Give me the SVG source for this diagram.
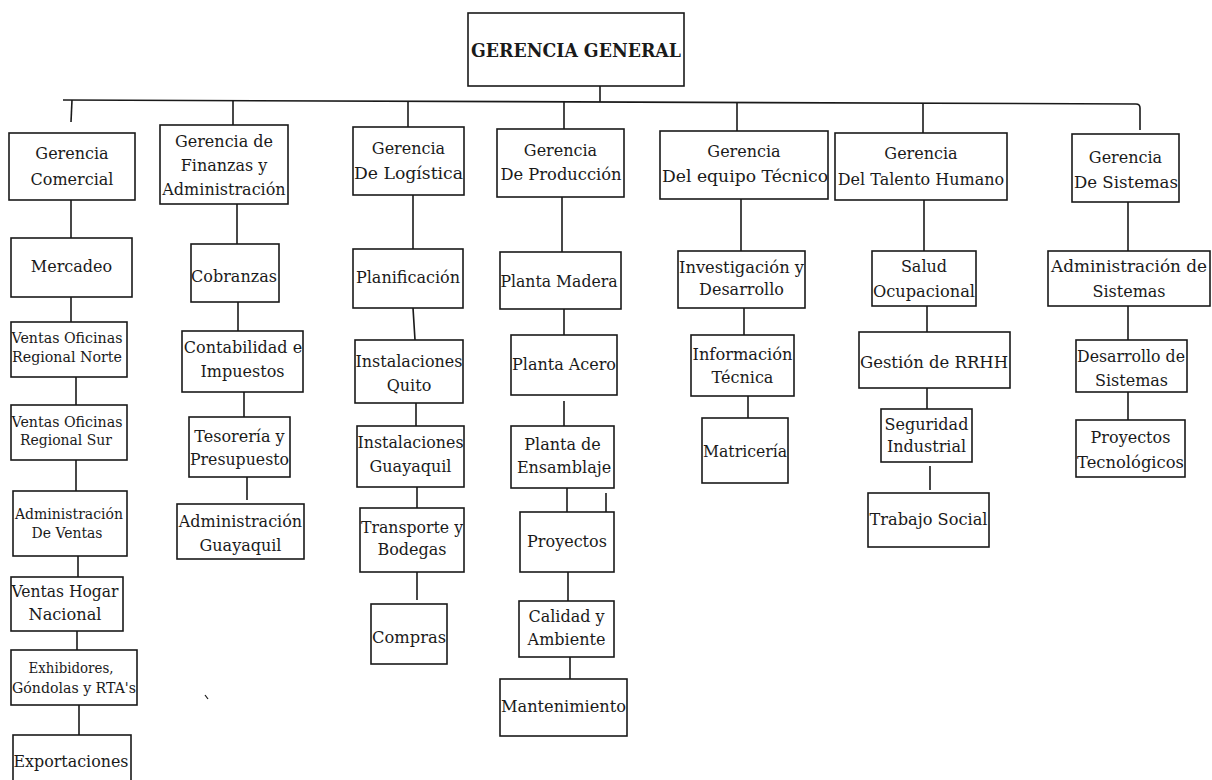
<svg xmlns="http://www.w3.org/2000/svg" width="1212" height="780" viewBox="0 0 1212 780">
<style>
.box{fill:#fff;stroke:#1a1a1a;stroke-width:1.6}
.t{font-family:"DejaVu Serif","Liberation Serif",serif;font-size:16px;fill:#1a1a1a;text-anchor:middle}
.s{font-size:14px}
.b{font-weight:bold;font-size:19px}
#connectors line,#connectors path{stroke:#1a1a1a;stroke-width:1.6;fill:none}
</style>
<rect width="1212" height="780" fill="#fff"/>
<g id="connectors">
<line x1="600" y1="86" x2="600" y2="102"/>
<path d="M63,100 L1136,104 Q1140,104 1140,108 L1140,130"/>
<line x1="72" y1="100" x2="71" y2="122"/>
<line x1="233" y1="100" x2="233" y2="125"/>
<line x1="408" y1="101" x2="408" y2="127"/>
<line x1="564" y1="102" x2="564" y2="129"/>
<line x1="737" y1="103" x2="737" y2="131"/>
<line x1="923" y1="103" x2="923" y2="133"/>
<line x1="71" y1="200" x2="71" y2="238"/>
<line x1="71" y1="297" x2="71" y2="322"/>
<line x1="76" y1="377" x2="76" y2="405"/>
<line x1="76" y1="460" x2="76" y2="491"/>
<line x1="78" y1="556" x2="78" y2="577"/>
<line x1="77" y1="631" x2="77" y2="650"/>
<line x1="79" y1="705" x2="79" y2="735"/>
<line x1="237" y1="204" x2="237" y2="244"/>
<line x1="238" y1="302" x2="238" y2="331"/>
<line x1="244" y1="392" x2="244" y2="417"/>
<line x1="247" y1="477" x2="247" y2="500"/>
<line x1="413" y1="195" x2="413" y2="249"/>
<line x1="413" y1="308" x2="415" y2="340"/>
<line x1="416" y1="403" x2="416" y2="426"/>
<line x1="417" y1="487" x2="417" y2="508"/>
<line x1="417" y1="572" x2="417" y2="600"/>
<line x1="562" y1="197" x2="562" y2="252"/>
<line x1="564" y1="309" x2="564" y2="335"/>
<line x1="564" y1="401" x2="564" y2="426"/>
<line x1="567" y1="488" x2="567" y2="512"/>
<line x1="606" y1="493" x2="606" y2="515"/>
<line x1="568" y1="572" x2="568" y2="601"/>
<line x1="570" y1="657" x2="570" y2="679"/>
<line x1="741" y1="199" x2="741" y2="251"/>
<line x1="744" y1="308" x2="744" y2="335"/>
<line x1="748" y1="396" x2="748" y2="418"/>
<line x1="924" y1="200" x2="924" y2="251"/>
<line x1="927" y1="306" x2="927" y2="332"/>
<line x1="927" y1="388" x2="927" y2="409"/>
<line x1="930" y1="466" x2="930" y2="490"/>
<line x1="1128" y1="202" x2="1128" y2="251"/>
<line x1="1128" y1="306" x2="1128" y2="340"/>
<line x1="1128" y1="392" x2="1128" y2="420"/>
<path d="M205,695 L208,699" style="stroke-width:1.2"/>
</g>
<g id="gerencia-general"><rect class="box" x="468" y="13" width="216" height="73"/><text class="t b" x="576" y="57" textLength="210" lengthAdjust="spacingAndGlyphs">GERENCIA GENERAL</text></g>
<g id="g-comercial"><rect class="box" x="9" y="133" width="126" height="67"/><text class="t" x="72" y="159">Gerencia</text><text class="t" x="72" y="185">Comercial</text></g>
<g id="g-finanzas"><rect class="box" x="160" y="125" width="128" height="79"/><text class="t" x="224" y="147">Gerencia de</text><text class="t" x="224" y="171">Finanzas y</text><text class="t" x="224" y="195">Administración</text></g>
<g id="g-logistica"><rect class="box" x="353" y="127" width="111" height="68"/><text class="t" x="408.5" y="154">Gerencia</text><text class="t" x="408.5" y="179" textLength="109" lengthAdjust="spacingAndGlyphs">De Logística</text></g>
<g id="g-produccion"><rect class="box" x="497" y="129" width="127" height="68"/><text class="t" x="560.5" y="156">Gerencia</text><text class="t" x="561" y="180" textLength="121" lengthAdjust="spacingAndGlyphs">De Producción</text></g>
<g id="g-tecnico"><rect class="box" x="660" y="131" width="168" height="68"/><text class="t" x="744" y="157">Gerencia</text><text class="t" x="745" y="182" textLength="166" lengthAdjust="spacingAndGlyphs">Del equipo Técnico</text></g>
<g id="g-talento"><rect class="box" x="835" y="133" width="172" height="67"/><text class="t" x="921" y="159">Gerencia</text><text class="t" x="921" y="185">Del Talento Humano</text></g>
<g id="g-sistemas"><rect class="box" x="1072" y="134" width="107" height="68"/><text class="t" x="1125.5" y="163">Gerencia</text><text class="t" x="1126" y="188" textLength="104" lengthAdjust="spacingAndGlyphs">De Sistemas</text></g>

<g id="mercadeo"><rect class="box" x="11" y="238" width="121" height="59"/><text class="t" x="71.5" y="272">Mercadeo</text></g>
<g id="ventas-norte"><rect class="box" x="11" y="322" width="116" height="55"/><text class="t s" x="67" y="343" textLength="111" lengthAdjust="spacingAndGlyphs">Ventas Oficinas</text><text class="t s" x="67" y="362" textLength="110" lengthAdjust="spacingAndGlyphs">Regional Norte</text></g>
<g id="ventas-sur"><rect class="box" x="11" y="405" width="116" height="55"/><text class="t s" x="67" y="427" textLength="111" lengthAdjust="spacingAndGlyphs">Ventas Oficinas</text><text class="t s" x="66" y="445" textLength="92" lengthAdjust="spacingAndGlyphs">Regional Sur</text></g>
<g id="adm-ventas"><rect class="box" x="13" y="491" width="114" height="65"/><text class="t s" x="69" y="519" textLength="108" lengthAdjust="spacingAndGlyphs">Administración</text><text class="t s" x="67" y="538" textLength="71" lengthAdjust="spacingAndGlyphs">De Ventas</text></g>
<g id="ventas-hogar"><rect class="box" x="11" y="577" width="112" height="54"/><text class="t" x="65" y="597" textLength="107" lengthAdjust="spacingAndGlyphs">Ventas Hogar</text><text class="t" x="65" y="620" textLength="73" lengthAdjust="spacingAndGlyphs">Nacional</text></g>
<g id="exhibidores"><rect class="box" x="11" y="650" width="126" height="55"/><text class="t s" x="71" y="673" textLength="85" lengthAdjust="spacingAndGlyphs">Exhibidores,</text><text class="t s" x="74" y="693" textLength="124" lengthAdjust="spacingAndGlyphs">Góndolas y RTA's</text></g>
<g id="exportaciones"><rect class="box" x="13" y="735" width="118" height="60"/><text class="t" x="71" y="767" textLength="115" lengthAdjust="spacingAndGlyphs">Exportaciones</text></g>

<g id="cobranzas"><rect class="box" x="191" y="244" width="88" height="58"/><text class="t" x="234" y="282">Cobranzas</text></g>
<g id="contabilidad"><rect class="box" x="182" y="331" width="121" height="61"/><text class="t" x="243" y="353">Contabilidad e</text><text class="t" x="242.5" y="377">Impuestos</text></g>
<g id="tesoreria"><rect class="box" x="189" y="417" width="101" height="60"/><text class="t" x="239.5" y="442">Tesorería y</text><text class="t" x="239.5" y="465" textLength="99" lengthAdjust="spacingAndGlyphs">Presupuesto</text></g>
<g id="adm-guayaquil"><rect class="box" x="177" y="504" width="127" height="55"/><text class="t" x="240.5" y="527">Administración</text><text class="t" x="240.5" y="551">Guayaquil</text></g>

<g id="planificacion"><rect class="box" x="353" y="249" width="110" height="59"/><text class="t" x="408" y="283">Planificación</text></g>
<g id="inst-quito"><rect class="box" x="355" y="340" width="108" height="63"/><text class="t" x="409" y="367" textLength="107" lengthAdjust="spacingAndGlyphs">Instalaciones</text><text class="t" x="409" y="391">Quito</text></g>
<g id="inst-guayaquil"><rect class="box" x="357" y="426" width="107" height="61"/><text class="t" x="410.5" y="448" textLength="106" lengthAdjust="spacingAndGlyphs">Instalaciones</text><text class="t" x="410.5" y="472">Guayaquil</text></g>
<g id="transporte"><rect class="box" x="360" y="508" width="104" height="64"/><text class="t" x="412" y="533" textLength="102" lengthAdjust="spacingAndGlyphs">Transporte y</text><text class="t" x="412" y="555">Bodegas</text></g>
<g id="compras"><rect class="box" x="371" y="604" width="76" height="60"/><text class="t" x="409" y="643" textLength="74" lengthAdjust="spacingAndGlyphs">Compras</text></g>

<g id="planta-madera"><rect class="box" x="500" y="252" width="121" height="57"/><text class="t" x="559" y="287" textLength="117" lengthAdjust="spacingAndGlyphs">Planta Madera</text></g>
<g id="planta-acero"><rect class="box" x="511" y="335" width="106" height="60"/><text class="t" x="564" y="370" textLength="104" lengthAdjust="spacingAndGlyphs">Planta Acero</text></g>
<g id="planta-ensamblaje"><rect class="box" x="511" y="426" width="103" height="62"/><text class="t" x="562.5" y="450">Planta de</text><text class="t" x="564" y="473">Ensamblaje</text></g>
<g id="proyectos"><rect class="box" x="520" y="512" width="94" height="60"/><text class="t" x="567" y="547">Proyectos</text></g>
<g id="calidad"><rect class="box" x="519" y="601" width="95" height="56"/><text class="t" x="566.5" y="622">Calidad y</text><text class="t" x="566.5" y="645">Ambiente</text></g>
<g id="mantenimiento"><rect class="box" x="500" y="679" width="127" height="57"/><text class="t" x="563.5" y="712" textLength="125" lengthAdjust="spacingAndGlyphs">Mantenimiento</text></g>

<g id="investigacion"><rect class="box" x="678" y="251" width="127" height="57"/><text class="t" x="741.5" y="273" textLength="125" lengthAdjust="spacingAndGlyphs">Investigación y</text><text class="t" x="741.5" y="295">Desarrollo</text></g>
<g id="informacion"><rect class="box" x="691" y="335" width="103" height="61"/><text class="t" x="742.5" y="360" textLength="100" lengthAdjust="spacingAndGlyphs">Información</text><text class="t" x="742.5" y="383">Técnica</text></g>
<g id="matriceria"><rect class="box" x="702" y="418" width="86" height="65"/><text class="t" x="745" y="457" textLength="84" lengthAdjust="spacingAndGlyphs">Matricería</text></g>

<g id="salud"><rect class="box" x="872" y="251" width="104" height="55"/><text class="t" x="924" y="272">Salud</text><text class="t" x="924" y="297" textLength="102" lengthAdjust="spacingAndGlyphs">Ocupacional</text></g>
<g id="gestion-rrhh"><rect class="box" x="859" y="332" width="151" height="56"/><text class="t" x="934" y="368" textLength="148" lengthAdjust="spacingAndGlyphs">Gestión de RRHH</text></g>
<g id="seguridad"><rect class="box" x="881" y="409" width="91" height="53"/><text class="t" x="926.5" y="430">Seguridad</text><text class="t" x="926.5" y="452">Industrial</text></g>
<g id="trabajo-social"><rect class="box" x="868" y="493" width="121" height="54"/><text class="t" x="928.5" y="525" textLength="118" lengthAdjust="spacingAndGlyphs">Trabajo Social</text></g>

<g id="adm-sistemas"><rect class="box" x="1048" y="251" width="162" height="55"/><text class="t" x="1129" y="272" textLength="156" lengthAdjust="spacingAndGlyphs">Administración de</text><text class="t" x="1129" y="297">Sistemas</text></g>
<g id="des-sistemas"><rect class="box" x="1076" y="340" width="111" height="52"/><text class="t" x="1131" y="362" textLength="108" lengthAdjust="spacingAndGlyphs">Desarrollo de</text><text class="t" x="1131.5" y="386">Sistemas</text></g>
<g id="proy-tecnologicos"><rect class="box" x="1076" y="420" width="109" height="57"/><text class="t" x="1130.5" y="443">Proyectos</text><text class="t" x="1130.5" y="468" textLength="107" lengthAdjust="spacingAndGlyphs">Tecnológicos</text></g>
</svg>
